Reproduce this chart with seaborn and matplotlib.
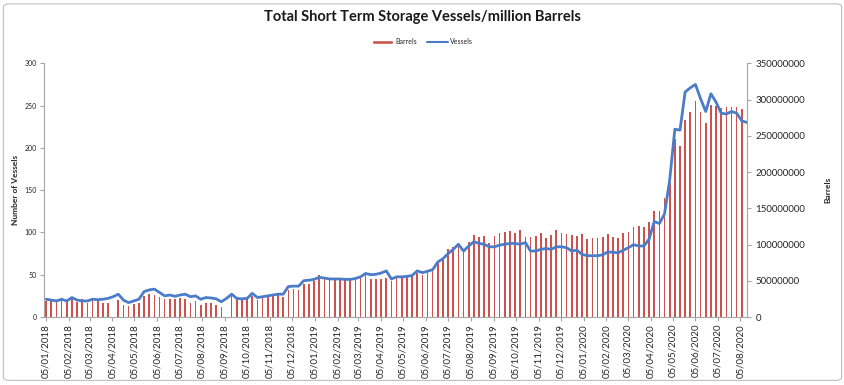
# Total Short Term Storage Vessels / million Barrels
# weekly vessels (left axis) and barrels (right axis)

import numpy as np
import pandas as pd
import matplotlib
matplotlib.use("Agg")
import matplotlib.pyplot as plt
import matplotlib.dates as mdates
import matplotlib.ticker as mticker
from matplotlib.patches import Patch, FancyBboxPatch
from matplotlib.lines import Line2D
import seaborn as sns

# Data
weeks = pd.date_range("2018-01-05", periods=137, freq="7D")

vessels = [
    21, 20, 19, 21, 19, 23, 20, 19, 19, 21, 20.5, 21, 22,
    24, 27, 20, 17, 19, 21, 30, 32, 33, 29, 25, 26, 24.5,
    26, 27, 24, 25, 21, 23, 22.5, 21.5, 18, 22, 27, 22, 21.5, 22, 28, 23, 24, 25, 26, 27, 27,
    36, 36.5, 36.5, 43, 43.5, 44.5,
    47, 46, 45, 45, 45, 44.5, 44.5, 45.5, 47.5, 51.5, 50, 50.5, 52, 54.5, 45, 47.5, 47.5,
    48, 49, 54.5, 52.5, 54, 56, 65, 69,
    75, 80, 86, 78, 84, 89, 87, 86, 83, 83, 85, 86, 87, 87, 86, 88, 78, 78, 80, 81, 80,
    83, 83, 82, 78, 79, 74,
    72.5, 72.5, 72.5, 73.5, 77, 76.5, 76, 79, 82, 85.5, 84, 84, 92, 113, 110.5, 122,
    162, 222, 221, 266, 271, 275, 258, 243, 264, 254, 241, 240, 243, 241, 232, 230,
]

barrels_m = [
    22.5, 22, 21, 26, 22, 25, 21, 25, 20, 23, 23, 20, 20,
    np.nan, 23, 16.5, 15.5, 17.5, 19.5, 29, 31.5, 31, 28, 25.5, 25.5, 25.5,
    26.5, 24.5, 19, 22, 16.5, 19.5, 19, 16.5, 14, np.nan, 29, 24.5, 23.5, 28, 29, 23.5,
    26.5, 29, 29.5, 30.5, 27, 37, 38, 37, 45.5, 45.5, 50,
    58, 54.5, 52.5, 52.5, 52.5, 52.5, 52.5, 53, 56.5, 60, 52.5, 52.5, 52.5, 54.5, 49.5,
    54.5, 55.5, 55.5, 57, 61, 58, 61, 67, 76, 81,
    94.5, 97, 100.5, 91, 103, 113, 110, 111.5, 101.5, 112, 116.5, 117.5, 118.5, 116.5,
    120, 110, 110, 111.5, 116.5, 108.5, 113, 120, 116.5, 115, 113, 112, 115,
    107.5, 108.5, 108.5, 110, 115, 110.5, 108.5, 116, 117, 124, 126, 123.5, 131, 146.5,
    146.5, 163.5,
    185, 245, 235.5, 271.5, 283, 298, 283, 268, 292, 291, 289, 290, 290, 290, 287.5, np.nan,
]

df = pd.DataFrame({
    "week": mdates.date2num(weeks),
    "Vessels": vessels,
    "Barrels": np.array(barrels_m) * 1e6,
})

bar_color = "#CB524F"
line_color = "#4A7CC9"
axis_grey = "#A6A6A6"

sns.set_style("white")
plt.rcParams["font.family"] = ["Lato", "DejaVu Sans"]

fig = plt.figure(figsize=(8.45, 3.85), dpi=100)
ax = fig.add_axes([0.052, 0.1766, 0.832, 0.659])
ax2 = ax.twinx()

# bars on the right axis, line on the left axis drawn above them
sns.barplot(data=df.dropna(), x="week", y="Barrels", native_scale=True, width=0.32,
            color=bar_color, saturation=1, errorbar=None, linewidth=0, ax=ax2)
sns.lineplot(data=df, x="week", y="Vessels", color=line_color, linewidth=2, ax=ax)
ax.set_zorder(ax2.get_zorder() + 1)
ax.patch.set_visible(False)

ax.set_xlim(mdates.date2num(pd.Timestamp("2018-01-02")),
            mdates.date2num(pd.Timestamp("2020-08-14")))
ax.set_ylim(0, 300)
ax2.set_ylim(0, 350e6)

ax.set_yticks(range(0, 301, 50))
ax2.set_yticks(np.arange(0, 350e6 + 1, 50e6))
ax2.yaxis.set_major_formatter(mticker.FuncFormatter(lambda v, p: f"{int(round(v))}"))

ax.xaxis.set_major_locator(mdates.MonthLocator(bymonthday=5))
ax.xaxis.set_major_formatter(mdates.DateFormatter("%d/%m/%Y"))

for s in ["top", "right"]:
    ax.spines[s].set_visible(False)
for s in ["top", "left", "bottom"]:
    ax2.spines[s].set_visible(False)
for s in ["left", "bottom"]:
    ax.spines[s].set_color(axis_grey)
ax2.spines["right"].set_color(axis_grey)

ax.tick_params(axis="x", bottom=True, length=3, color=axis_grey, labelsize=7,
               labelrotation=90, pad=2, labelcolor="#262626")
ax.tick_params(axis="y", left=True, length=3, color=axis_grey, labelsize=5,
               pad=2, labelcolor="#262626")
ax2.tick_params(axis="y", right=True, length=3, color=axis_grey, labelsize=7,
                pad=3, labelcolor="#262626")
ax2.tick_params(axis="x", bottom=False, labelbottom=False)

ax.set_xlabel("")
ax2.set_xlabel("")
ax.set_ylabel("Number of Vessels", fontsize=6, fontweight="bold", labelpad=4)
ax2.set_ylabel("Barrels", fontsize=6, fontweight="bold", labelpad=14)

fig.text(0.5, 1 - 17 / 385, "Total Short Term Storage Vessels/million Barrels",
         ha="center", va="center", fontsize=10.5, fontweight="bold", color="#1a1a1a")

handles = [Patch(facecolor=bar_color, label="Barrels"),
           Line2D([], [], color=line_color, linewidth=1.5, label="Vessels")]
fig.legend(handles=handles, loc="center", bbox_to_anchor=(0.5, 1 - 42 / 385), ncol=2,
           frameon=False, fontsize=5, handlelength=3, handleheight=0.5,
           columnspacing=1.5, handletextpad=0.3)

# light frame round the chart
frame = FancyBboxPatch((0.004, 0.012), 0.992, 0.978, boxstyle="round,pad=0,rounding_size=0.008",
                       transform=fig.transFigure, fill=False, edgecolor="#BFBFBF", linewidth=0.8)
fig.patches.append(frame)

fig.savefig("out.png", dpi=100)
